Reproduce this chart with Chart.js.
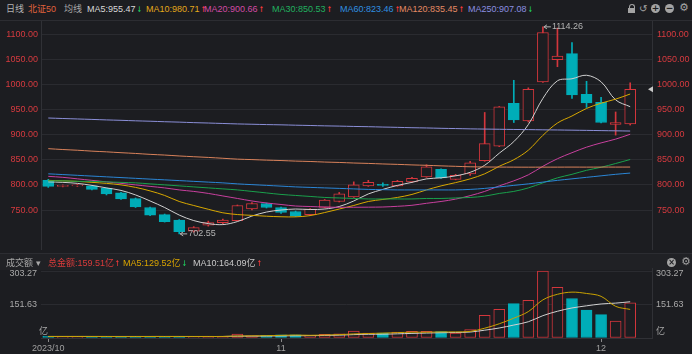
<!DOCTYPE html>
<html>
<head>
<meta charset="utf-8">
<script src="https://cdn.jsdelivr.net/npm/chart.js@4.4.0/dist/chart.umd.min.js"></script>
<style>
body { margin:0; background:#1c1d21; width:692px; height:354px; overflow:hidden; position:relative;
       font-family:"Liberation Sans","Noto Sans CJK SC",sans-serif; font-size:9px; }
.t { position:absolute; white-space:nowrap; line-height:12px; }
.up, .dn { display:inline-block; width:5px; margin-left:1px; overflow:visible; font-family:"DejaVu Sans",sans-serif;
           font-weight:bold; font-size:8px; transform:scaleX(0.7); transform-origin:left; }
.up { color:#ff3b3b; }
.dn { color:#1fcf5f; }
.ic { position:absolute; color:#a4a4a4; font-family:"DejaVu Sans",sans-serif; font-size:10px; line-height:12px; }
.circ { position:absolute; width:9px; height:9px; border-radius:50%; background:#a4a4a4; color:#1c1d21;
        font:bold 9px/9px "DejaVu Sans",sans-serif; text-align:center; }
canvas { position:absolute; left:0; }
#main { top:21px; }
#vol { top:252px; }
</style>
</head>
<body>
<div style="position:absolute;left:0;top:20px;width:692px;height:1px;background:#2c2d32"></div>
<div style="position:absolute;left:0;top:253px;width:692px;height:16px;background:#202125;border-top:1px solid #2c2d32"></div>

<div class="t" style="left:6px;top:3px;color:#b3b3b3">日线</div>
<div class="t" style="left:28px;top:3px;color:#e0623c">北证50</div>
<div class="t" style="left:64px;top:3px;color:#a8a8a8">均线</div>
<div class="t" style="left:87px;top:3px;color:#d8d8d8">MA5:955.47<span class="dn">↓</span></div>
<div class="t" style="left:146px;top:3px;color:#e3a81a">MA10:980.71<span class="up">↑</span></div>
<div class="t" style="left:204px;top:3px;color:#d24aa5">MA20:900.66<span class="up">↑</span></div>
<div class="t" style="left:272px;top:3px;color:#21b05f">MA30:850.53<span class="up">↑</span></div>
<div class="t" style="left:340px;top:3px;color:#2f8fe0">MA60:823.46<span class="up">↑</span></div>
<div class="t" style="left:399px;top:3px;color:#e58a63">MA120:835.45<span class="up">↑</span></div>
<div class="t" style="left:468px;top:3px;color:#8b8fe0">MA250:907.08<span class="dn">↓</span></div>

<div style="position:absolute;left:629px;top:4px;width:4px;height:4px;border:1.5px solid #a4a4a4;border-bottom:none;border-radius:3px 3px 0 0"></div>
<div style="position:absolute;left:628px;top:8px;width:7px;height:5px;background:#a4a4a4"></div>
<div class="ic" style="left:639px;top:3px">↺</div>
<div class="circ" style="left:651px;top:4px">+</div>
<div class="circ" style="left:665px;top:4px">−</div>
<div class="ic" style="left:679px;top:2px;font-size:11px">⚙</div>

<canvas id="main" width="692" height="229"></canvas>
<canvas id="vol" width="692" height="102"></canvas>

<div class="t" style="left:6px;top:257px;color:#a8a8a8">成交额 ▾</div>
<div class="t" style="left:48px;top:257px;color:#d93b3b">总金额:159.51亿<span class="up">↑</span></div>
<div class="t" style="left:123px;top:257px;color:#d9a400">MA5:129.52亿<span class="dn">↓</span></div>
<div class="t" style="left:193px;top:257px;color:#c8c8c8">MA10:164.09亿<span class="up">↑</span></div>
<div class="circ" style="left:667px;top:258px;font-size:8px">×</div>
<div class="ic" style="left:681px;top:256px;font-size:11px">⚙</div>

<script>
// 北证50 daily, 2023/10/10 - 2023/12/05
const opens  = [809,797,798,798,793,784,773,755,741,730,708,720,725,729,752,763,755,747,741,755,767,776,798,801,798,806,816,831,811,822,848,877,962,927,1005,1049,1061,980,964,920,921];
const highs  = [811,800,801,799,794,785,774,756,742,731,717,728,732,760,765,764,756,748,753,771,785,806,809,804,809,815,840,832,821,847,944,956,1008,993,1114.26,1112,1083,1006,974,945,1003];
const lows   = [795,796,797,790,780,771,755,739,726,702.55,706,718,723,728,750,754,743,737,739,754,766,775,797,797,797,805,815,813,810,819,847,876,924,925,1004,1035,972,954,923,899,919];
const closes = [797,799,800,791,782,772,756,740,727,707,715,725,730,759,763,755,745,738,752,770,782,800,805,799,807,813,836,814,819,844,882,955,929,990,1103,1056,979,963,924,924,990];

const ma5   = [806,805,803,799,794,789,780,768,755,740,729,723,721,727,738,746,750,752,751,752,757,768,782,791,799,805,812,814,818,825,839,863,886,920,972,1007,1011,1018,1005,969,955.5];
const ma10  = [809,808,807,805,803,800,795,788,779,767,759,751.5,744.5,741,739.4,737.7,736.6,736.4,738.9,745,752,759,767,771,775,781,790,798,804.5,812,822,837,850,869,898.5,923,937,952,962.5,970.5,980.7];
const ma20  = [817,815,812,809,806,803,800,797,794,790,787,783,778,773,768,764,761,758,757,756,755.4,755.5,755.7,756,757.4,759.4,763.4,767,771.7,778.6,787,798,808,820,837,852,864,875,883.5,891,900.7];
const ma30  = [808,808,807,807,806,805,804,802,800,798,796,794,792,790,787,784,781,779,777,775,774,773,772,772,772,772,773,773,774,775,777.6,783,787,794,804,814,821,829,835,842.5,850.5];
const ma60  = [822,820.5,819,817.5,816,814.5,813,811.5,810,808.5,807,805.5,804,802,800.5,799,797.5,796,795,794,793,792,791,790.5,790,790,790,790,790,791,793,796,799,802,805.5,809,812,815,818,821,823.5];
const ma120 = [872,870.3,868.9,867.1,865.7,864,862.5,860.7,859.3,857.5,856,854.6,852.9,851.2,850.3,849.2,848.4,847.3,846.5,845.4,844.6,843.5,842.7,841.6,840.8,839.7,838.9,837.8,836.9,836,835.6,835.4,835.3,835.2,835.3,835.3,835.4,835.3,835.4,835.4,835.45];
const ma250 = [933,932,931.1,930.2,929.2,928.4,927.4,926.6,925.6,924.8,923.8,923,922.1,921.2,920.6,919.9,919.4,918.7,918.1,917.4,916.9,916.2,915.7,915,914.4,913.7,913.2,912.5,912,911.4,911,910.6,910.2,909.9,909.5,909.2,908.8,908.4,907.9,907.5,907.08];

// 成交额 (亿)
const vols   = [8,6,6,7,7,6,7,7,7,8,6,7,7,18,10,11,14,14,12,17,19,31,22,22,27,30,30,29,22,38,103,130,156,171,303.27,229,179,126,106,77,159.51];
const vma5   = [7,7,7,7,6.8,6.4,6.6,6.8,6.8,7,7,7,7,9.2,9.6,10.6,12,13.4,12.2,13.6,15.2,18.6,20.2,22.2,24.2,26.4,26.2,27.6,27.6,29.8,44.4,64.4,89.8,119.6,172.7,197.9,207.7,201.7,188.7,143.4,129.52];
const vma10  = [7,7,7,7,7,7,7,7,7,6.9,6.7,6.8,6.9,8,8.3,8.8,9.5,10.2,10.7,11.6,12.9,15.3,16.8,17.2,18.9,20.8,22.4,23.9,24.9,27,35.4,45.3,58.7,73.6,101.2,121.1,136,145.7,154.1,158,164.09];

const priceTicks = [750, 800, 850, 900, 950, 1000, 1050, 1100];
const volTicks = [0, 151.63, 303.27];
const tickIdx = [0, 16, 38];
const tickText = ['2023/10', '11', '12'];

const BG = '#1c1d21';
const RED = '#d3363c';
const TEAL = '#00adb8';
const GRID = '#2a2b30';
const BORDER = '#303136';

Chart.defaults.font.family = '"Liberation Sans", "Noto Sans CJK SC", sans-serif';
Chart.defaults.font.size = 9;

const slots = opens.length + 1;
const labels = Array.from({length: slots}, (_, i) => i);
const isUp = opens.map((o, i) => closes[i] >= o);

function fixWidth(w) {
    return s => { s.width = w; s.paddingTop = 0; s.paddingBottom = 0; };
}

const markPlugin = {
    id: 'marks',
    afterDatasetsDraw(chart) {
        const {ctx, chartArea, scales: {x, y}} = chart;
        const hi = highs.indexOf(Math.max(...highs));
        const lo = lows.indexOf(Math.min(...lows));
        ctx.save();
        ctx.font = '9px "Liberation Sans", sans-serif';
        ctx.fillStyle = '#b4b4b4';
        ctx.strokeStyle = '#b4b4b4';
        ctx.textBaseline = 'middle';
        ctx.textAlign = 'left';
        [[hi, highs[hi]], [lo, lows[lo]]].forEach(([i, v]) => {
            const px = x.getPixelForValue(i) + 1, py = y.getPixelForValue(v);
            ctx.beginPath();
            ctx.moveTo(px, py); ctx.lineTo(px + 7, py);
            ctx.moveTo(px, py); ctx.lineTo(px + 3, py - 2);
            ctx.moveTo(px, py); ctx.lineTo(px + 3, py + 2);
            ctx.stroke();
            ctx.fillText(v.toFixed(2), px + 8, py);
        });
        // last price marker on the right edge
        const ly = y.getPixelForValue(closes[closes.length - 1]);
        ctx.fillStyle = '#c8c8c8';
        ctx.beginPath();
        ctx.moveTo(chartArea.right - 4, ly);
        ctx.lineTo(chartArea.right + 1, ly - 3);
        ctx.lineTo(chartArea.right + 1, ly + 3);
        ctx.fill();
        ctx.restore();
    }
};

function maLine(data, color) {
    return { type: 'line', data, borderColor: color, borderWidth: 1, pointRadius: 0,
             tension: 0.35, order: 0, yAxisID: 'y' };
}

new Chart(document.getElementById('main'), {
    type: 'bar',
    data: {
        labels,
        datasets: [
            maLine(ma250, '#8b8fd8'),
            maLine(ma120, '#d9825b'),
            maLine(ma60, '#2b86d6'),
            maLine(ma30, '#1aa04c'),
            maLine(ma20, '#c8409e'),
            maLine(ma10, '#d8a800'),
            maLine(ma5, '#d0d0d0'),
            {
                data: opens.map((o, i) => [o, closes[i]]),
                backgroundColor: isUp.map(u => u ? BG : TEAL),
                borderColor: isUp.map(u => u ? RED : TEAL),
                borderWidth: 1, borderSkipped: false,
                barThickness: 11, grouped: false, order: 1, yAxisID: 'y'
            },
            {
                data: lows.map((l, i) => [l, highs[i]]),
                backgroundColor: isUp.map(u => u ? RED : TEAL),
                borderWidth: 0, barThickness: 1, grouped: false, order: 2, yAxisID: 'y'
            }
        ]
    },
    options: {
        responsive: false, animation: false, events: [],
        layout: { padding: 0 },
        plugins: { legend: { display: false }, tooltip: { enabled: false } },
        scales: {
            x: { display: false, offset: true },
            y: {
                position: 'left', min: 670.5, max: 1125.9,
                afterBuildTicks: s => { s.ticks = priceTicks.map(v => ({value: v})); },
                afterFit: fixWidth(41),
                ticks: { color: '#d63a3f', padding: 3, callback: v => v.toFixed(2) },
                grid: { color: GRID, drawTicks: false },
                border: { display: true, color: BORDER }
            },
            yR: {
                position: 'right', min: 670.5, max: 1125.9,
                afterBuildTicks: s => { s.ticks = priceTicks.map(v => ({value: v})); },
                afterFit: fixWidth(40),
                ticks: { color: '#d63a3f', padding: 5, callback: v => v.toFixed(2) },
                grid: { drawOnChartArea: false, drawTicks: false },
                border: { display: true, color: BORDER }
            }
        }
    },
    plugins: [markPlugin]
});

const volLabels = {
    id: 'volLabels',
    afterDraw(chart) {
        const {ctx, chartArea, scales: {y}} = chart;
        ctx.save();
        ctx.font = '9px "Liberation Sans", "Noto Sans CJK SC", sans-serif';
        ctx.fillStyle = '#a9a9a9';
        ctx.textBaseline = 'middle';
        volTicks.forEach(v => {
            let py = y.getPixelForValue(v);
            py = Math.min(Math.max(py, chartArea.top + 6), chartArea.bottom - 6);
            const txt = v === 0 ? '亿' : v.toFixed(2);
            if (v === 0) { ctx.textAlign = 'left'; ctx.fillText(txt, chartArea.left - 2, py); }
            else { ctx.textAlign = 'right'; ctx.fillText(txt, chartArea.left - 4, py); }
            ctx.textAlign = 'left';
            ctx.fillText(txt, chartArea.right + 4, py);
        });
        ctx.restore();
    }
};

new Chart(document.getElementById('vol'), {
    type: 'bar',
    data: {
        labels,
        datasets: [
            { type: 'line', data: vma5, borderColor: '#c9a200', borderWidth: 1, pointRadius: 0, tension: 0.35, order: 0 },
            { type: 'line', data: vma10, borderColor: '#d0d0d0', borderWidth: 1, pointRadius: 0, tension: 0.35, order: 0 },
            {
                data: vols,
                backgroundColor: isUp.map(u => u ? BG : TEAL),
                borderColor: isUp.map(u => u ? RED : TEAL),
                borderWidth: 1, borderSkipped: false,
                barThickness: 11, order: 1
            }
        ]
    },
    options: {
        responsive: false, animation: false, events: [],
        layout: { padding: { top: 16 } },
        plugins: { legend: { display: false }, tooltip: { enabled: false } },
        scales: {
            x: {
                offset: true,
                afterFit: s => { s.height = 16; },
                ticks: {
                    color: '#a0a0a0', padding: 1, autoSkip: false, maxRotation: 0,
                    callback: (v, i) => { const k = tickIdx.indexOf(i); return k >= 0 ? tickText[k] : ''; }
                },
                grid: {
                    offset: false, drawOnChartArea: false, drawTicks: true, tickLength: 4,
                    color: c => tickIdx.includes(c.index) ? '#8a8a8a' : 'transparent'
                },
                border: { display: true, color: BORDER }
            },
            y: {
                position: 'left', min: 0, max: 317,
                afterBuildTicks: s => { s.ticks = volTicks.map(v => ({value: v})); },
                afterFit: fixWidth(41),
                ticks: { display: false },
                grid: { color: c => c.tick && c.tick.value === 0 ? 'transparent' : GRID, drawTicks: false },
                border: { display: false }
            },
            yR: {
                position: 'right', min: 0, max: 317,
                afterBuildTicks: s => { s.ticks = volTicks.map(v => ({value: v})); },
                afterFit: fixWidth(40),
                ticks: { display: false },
                grid: { drawOnChartArea: false, drawTicks: false },
                border: { display: true, color: BORDER }
            }
        }
    },
    plugins: [volLabels]
});
</script>
</body>
</html>
